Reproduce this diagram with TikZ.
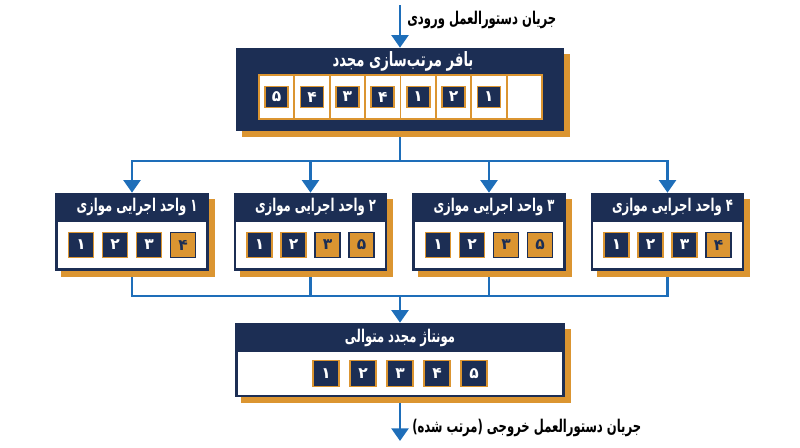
\documentclass[tikz,border=0pt]{standalone}
\usepackage{fontspec}
\usepackage{graphicx}
\usetikzlibrary{arrows.meta, shadows, backgrounds}
\TeXXeTstate=1
\newfontfamily\fafont[Script=Arabic]{DejaVu Sans}
\definecolor{navy}{RGB}{28,46,84}
\definecolor{gold}{RGB}{219,149,49}
\definecolor{flowblue}{RGB}{30,110,185}

\tikzset{
  panel/.style={ rectangle, fill=navy, inner sep=0pt, drop shadow={ shadow xshift=0.15cm, shadow yshift=-0.15cm, fill=gold, opacity=1 } },
  tray/.style={ rectangle, fill=white, inner sep=0pt },
  slot/.style={ rectangle, draw=gold, line width=1.4pt, fill=white, inner sep=0pt, minimum width=0.885cm, minimum height=1.1cm },
  tok/.style={ rectangle, draw=gold, line width=1.2pt, fill=navy, text=white, inner sep=0pt, font=\fafont\bfseries\fontsize{11}{12}\selectfont },
  hot/.style={ fill=gold, draw=navy, text=navy },
  title/.style={ text=white, inner sep=0pt, font=\fafont\bfseries\fontsize{12.5}{14}\selectfont },
  caption/.style={ text=black, inner sep=0pt, font=\fafont\bfseries\fontsize{12.5}{14}\selectfont },
  flow/.style={ draw=flowblue, line width=2pt },
  tip/.style={ -{Triangle[width=12pt, length=9pt]} }
}

\begin{document}
\begin{tikzpicture}[x=0.025cm, y=-0.025cm]
\useasboundingbox ( 0, 0 ) rectangle ( 800, 447 );

% Reorder buffer
\node [panel, minimum width=8.2cm, minimum height=2.075cm] (buf) at ( 400, 89.5 ) {};
\node [title, font=\fafont\bfseries\fontsize{14}{16}\selectfont] (buftitle) at ( 403, 61 ) {\scalebox{0.67}[1]{\beginR بافر مرتب‌سازی مجدد\endR}};
\node [tray, draw=gold, line width=1.4pt, minimum width=7.075cm, minimum height=1.1cm] (bufrow) at ( 400.5, 97 ) {};
\foreach \d [count=\i] in {۵,۴,۳,۴,۱,۲,۱} {
  \node [slot] (slot\i) at ( {259 + (\i - 0.5)*35.375}, 97 ) {};
  \node [tok, minimum width=0.575cm, minimum height=0.525cm] (tok\i) at ( slot\i ) {\d};
}
\node [slot] (slot8) at ( {259 + 7.5*35.375}, 97 ) {};

% Parallel execution units
\foreach \x/\n/\m/\tail [count=\u] in {132/۱/3/۴, 310.5/۲/2/۵, 489/۳/2/۵, 667.5/۴/3/۴} {
  \node [panel, minimum width=3.825cm, minimum height=1.95cm] (pu\u) at ( \x, 232 ) {};
  \node [tray, minimum width=3.7cm, minimum height=1.15cm] (putray\u) at ( \x, 245 ) {};
  \node [title] (putitle\u) at ( \x + 5, 207 ) {\scalebox{0.66}[1]{\beginR\n{} واحد اجرایی موازی\endR}};
  \foreach \d [count=\k] in {۱,۲,۳,\tail} {
    \ifnum\k>\m \def\look{hot}\else\def\look{}\fi
    \node [tok, \look, minimum size=0.625cm] (pu\u tok\k) at ( {\x + (\k - 2.5)*34}, 245 ) {\d};
  }
}

% Sequential reassembly
\node [panel, minimum width=8.25cm, minimum height=1.85cm] (mont) at ( 400, 360 ) {};
\node [tray, minimum width=8.1cm, minimum height=1.075cm] (monttray) at ( 400, 373.5 ) {};
\node [title] (monttitle) at ( 400, 338 ) {\scalebox{0.66}[1]{\beginR مونتاژ مجدد متوالی\endR}};
\foreach \d [count=\k] in {۱,۲,۳,۴,۵} {
  \node [tok, minimum size=0.65cm] (out\k) at ( {289 + 37*\k}, 373.5 ) {\d};
}

% Labels
\node [caption, anchor=west] (inlabel) at ( 407, 20 ) {\scalebox{0.66}[1]{\beginR جریان دستورالعمل ورودی\endR}};
\node [caption, anchor=west] (outlabel) at ( 412, 428 ) {\scalebox{0.66}[1]{\beginR جریان دستورالعمل خروجی (مرتب شده)\endR}};

% Flow lines
\begin{scope}[on background layer]
\coordinate (in) at ( 400, 5 );
\coordinate (split) at ( 400, 161 );
\coordinate (merge) at ( 400, 296 );
\coordinate (out) at ( 400, 441 );
\draw [flow, tip] (in) -- (buf.north);
\draw [flow] (buf.south) -- (split);
\foreach \u in {1,...,4} \draw [flow, tip] (split) -| (pu\u.north);
\foreach \u in {1,...,4} \draw [flow] (pu\u.south) |- (merge);
\draw [flow, tip] (merge) -- (mont.north);
\draw [flow, tip] (mont.south) -- (out);
\end{scope}

\end{tikzpicture}
\end{document}
